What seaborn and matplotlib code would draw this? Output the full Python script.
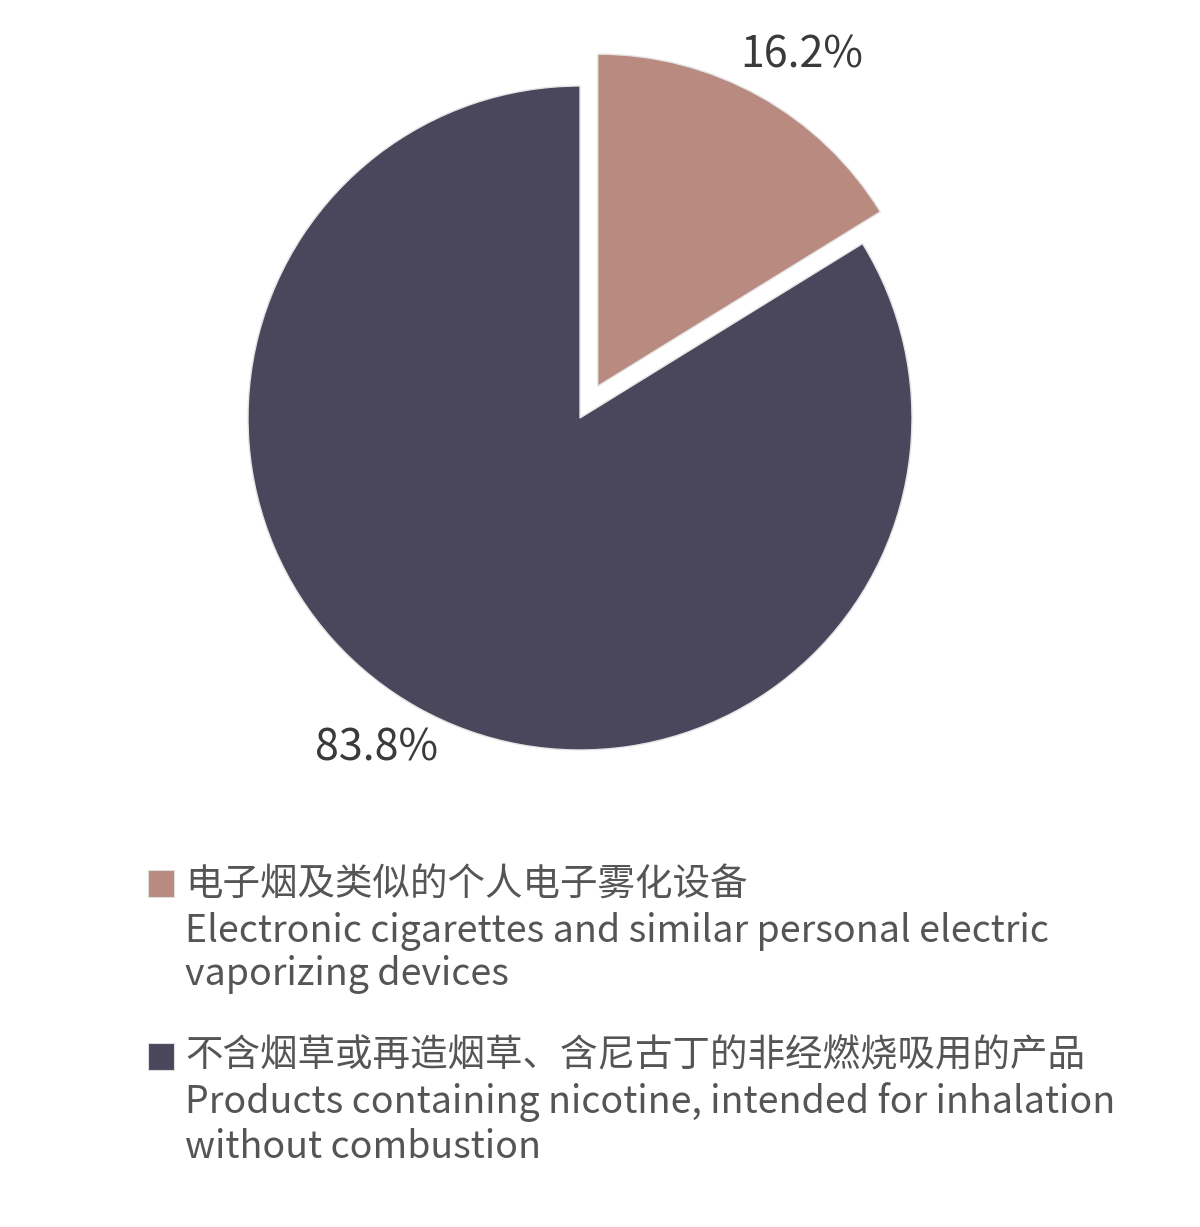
import matplotlib
matplotlib.use("Agg")
import matplotlib.pyplot as plt
import seaborn as sns
import numpy as np
from matplotlib.patches import Rectangle

# data
labels_cn = ["电子烟及类似的个人电子雾化设备",
             "不含烟草或再造烟草、含尼古丁的非经燃烧吸用的产品"]
labels_en = ["Electronic cigarettes and similar personal electric\nvaporizing devices",
             "Products containing nicotine, intended for inhalation\nwithout combustion"]
shares = [16.2, 83.8]
colors = ["#B98A80", "#4A475C"]

sns.set_theme(style="white")
plt.rcParams["font.family"] = ["Noto Sans CJK SC", "DejaVu Sans"]

W, H = 1200, 1227
fig = plt.figure(figsize=(W / 100, H / 100), dpi=100)

# pie axes: centre at (580, 418) px, radius ~332 px
side = 800
cx, cy = 580, 418
ax = fig.add_axes([(cx - side / 2) / W, 1 - (cy + side / 2) / H, side / W, side / H])
lim = (side / 2) / 332
wedges, texts, autotexts = ax.pie(
    shares, colors=colors, startangle=90, counterclock=False,
    explode=[0.11, 0], autopct=lambda p: f"{p:.1f}%", pctdistance=1.17,
    wedgeprops=dict(edgecolor="#e4e4e4", linewidth=1.0),
    textprops=dict(fontsize=31, color="#3a3a3a"))

# labels sit a little clockwise of each wedge's middle
for w, t in zip(wedges, autotexts):
    ang = np.deg2rad((w.theta1 + w.theta2) / 2 - 2.5)
    x0, y0 = w.center
    t.set_position((x0 + 1.17 * np.cos(ang), y0 + 1.17 * np.sin(ang)))

ax.set_xlim(-lim, lim)
ax.set_ylim(-lim, lim)
ax.set_aspect("equal")
ax.axis("off")

# legend drawn by hand so the swatch sits on the first line
entries = [(870, 896, 942, 985), (1043, 1066, 1113, 1158)]
for i, (sq_top, cn_base, en1, en2) in enumerate(entries):
    fig.patches.append(Rectangle((148 / W, 1 - (sq_top + 27) / H), 26 / W, 27 / H,
                                 transform=fig.transFigure, facecolor=colors[i],
                                 edgecolor="#dddddd", linewidth=0.8))
    fig.text(185 / W, 1 - cn_base / H, labels_cn[i], fontsize=27,
             color="#555555", va="baseline", ha="left")
    l1, l2 = labels_en[i].split("\n")
    fig.text(185 / W, 1 - en1 / H, l1, fontsize=27, color="#555555",
             va="baseline", ha="left")
    fig.text(185 / W, 1 - en2 / H, l2, fontsize=27, color="#555555",
             va="baseline", ha="left")

fig.savefig("out.png", dpi=100, facecolor="white")
